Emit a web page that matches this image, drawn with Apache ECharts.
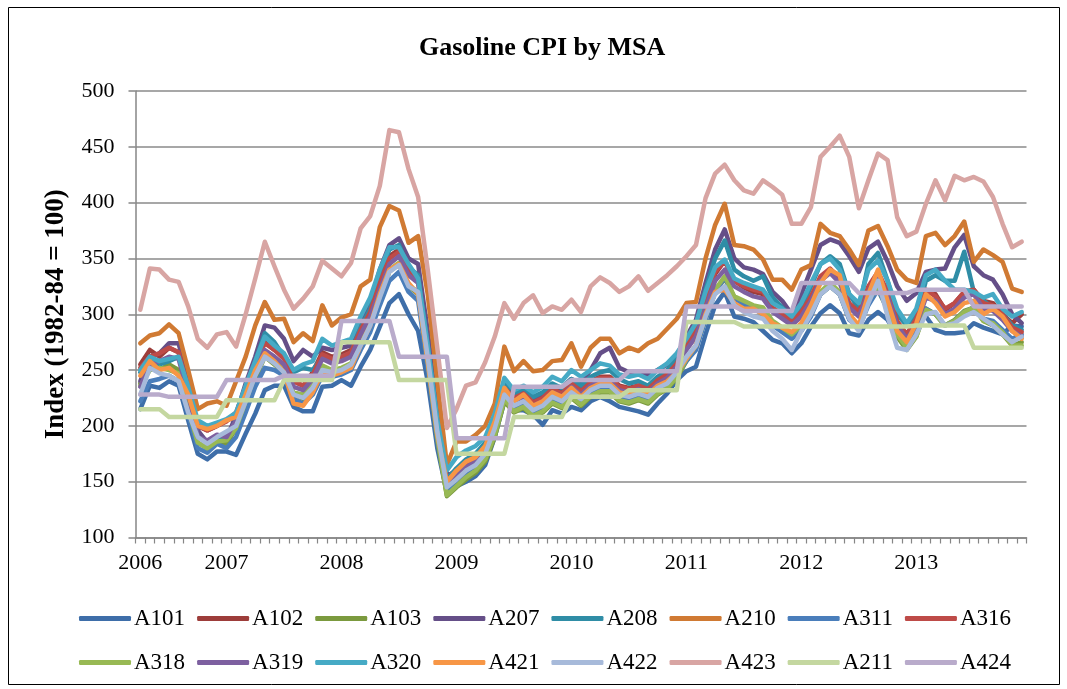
<!DOCTYPE html>
<html>
<head>
<meta charset="utf-8">
<script src="https://cdn.jsdelivr.net/npm/echarts@6/dist/echarts.min.js"></script>
<style>
html,body{margin:0;padding:0;background:#fff;}
#chart{width:1067px;height:689px;}
</style>
</head>
<body>
<div id="chart"></div>
<script>
// Monthly categories: Apr 2006 .. Dec 2013 (93 months)
const startYear = 2006, startMonth = 4, endYear = 2013;
const categories = [];
for (let y = startYear; y <= endYear; y++) {
  for (let m = (y === startYear ? startMonth : 1); m <= 12; m++) {
    categories.push(y + '-' + (m < 10 ? '0' + m : m));
  }
}
const yTicks = [100, 150, 200, 250, 300, 350, 400, 450, 500];

// Series values (by year blocks: 2006 Apr-Dec, then Jan-Dec 2007..2013)
const A101 = [215,236,234,240,236,205,175,170,177,
  177,174,193,211,232,236,236,217,213,213,235,236,
  241,236,253,268,289,310,318,300,285,240,180,140,
  146,150,155,165,190,222,214,214,210,201,214,211,
  217,214,222,226,222,217,215,213,210,220,229,241,
  249,253,282,308,320,298,296,293,285,277,274,265,
  274,289,301,308,301,283,281,295,302,295,280,271,
  296,298,286,283,283,284,292,288,285,282,290,289];
const A102 = [255,268,262,270,266,232,200,196,200,
  205,208,232,255,275,268,262,240,236,248,266,262,
  264,268,288,304,330,352,358,340,332,270,200,150,
  158,166,170,180,202,235,226,230,222,226,234,230,
  238,232,240,244,244,236,234,236,234,242,248,257,
  272,284,310,336,348,330,324,320,318,305,300,293,
  300,315,333,340,330,308,300,322,337,318,292,282,
  295,320,318,304,310,320,322,312,310,300,292,300];
const A103 = [238,252,250,255,250,218,185,180,185,
  184,198,220,242,262,255,248,228,224,235,252,248,
  250,254,274,290,315,338,345,325,318,255,188,137,
  145,152,158,168,190,222,212,216,208,212,220,216,
  225,218,226,230,230,222,220,223,220,228,233,243,
  258,270,296,320,332,315,310,306,304,292,286,280,
  288,302,318,325,318,296,288,310,322,304,280,268,
  280,305,300,290,295,303,306,294,290,282,272,275];
const A207 = [240,262,265,274,274,240,196,185,188,
  188,210,238,262,290,288,278,258,268,262,270,268,
  270,272,292,310,340,362,368,350,345,285,210,155,
  160,168,172,182,205,236,226,232,225,228,236,234,
  242,238,250,265,270,252,248,247,246,250,255,262,
  280,295,328,358,376,350,342,340,336,320,312,300,
  318,340,362,367,364,352,338,359,365,347,325,312,
  319,338,340,341,360,371,343,335,331,318,300,292];
const A208 = [248,258,255,258,262,232,190,186,190,
  188,205,232,258,283,275,262,248,252,250,262,258,
  262,265,288,305,335,358,362,342,335,272,205,152,
  162,170,175,185,208,240,228,234,226,230,238,234,
  242,236,244,248,250,242,238,240,236,244,250,260,
  276,290,322,350,366,340,334,330,334,315,306,298,
  305,325,345,352,345,318,305,345,355,330,300,290,
  298,330,335,330,330,356,320,312,306,300,290,286];
const A210 = [274,281,283,291,283,250,215,220,222,
  218,240,262,290,311,295,296,275,283,276,308,290,
  297,300,325,331,378,397,393,364,370,318,240,165,
  186,186,192,200,220,271,249,258,249,250,258,259,
  274,253,270,278,278,265,270,267,274,278,287,296,
  310,311,350,380,399,362,361,358,349,331,331,322,
  340,344,381,373,370,358,344,375,379,361,340,331,
  328,370,373,362,370,383,347,358,353,347,323,320];
const A311 = [222,240,242,245,240,210,180,176,184,
  180,190,212,235,252,250,245,224,220,228,245,244,
  246,250,268,284,308,330,338,320,312,252,188,142,
  150,156,162,172,194,225,216,220,212,216,224,220,
  228,222,230,234,234,226,224,226,222,230,236,246,
  258,268,295,320,333,315,308,305,300,290,284,278,
  285,298,318,325,318,295,288,308,322,305,282,272,
  284,305,300,290,294,302,306,296,294,286,278,282];
const A316 = [252,262,265,270,266,232,200,196,200,
  204,212,235,256,274,268,260,240,236,246,264,260,
  262,266,286,302,328,350,356,338,330,268,200,150,
  156,164,170,180,202,234,225,229,221,225,233,229,
  238,231,239,243,243,235,233,236,233,241,246,256,
  272,285,312,338,348,330,325,322,320,306,300,294,
  302,316,334,341,332,310,302,325,338,320,294,282,
  296,322,316,305,310,320,322,310,308,300,288,284];
const A318 = [236,250,252,250,247,215,185,180,186,
  187,198,222,246,265,258,250,230,228,236,254,250,
  252,256,276,292,316,340,346,326,320,258,190,138,
  146,154,160,170,192,224,213,217,209,213,221,217,
  226,219,227,231,231,223,221,224,221,229,234,244,
  260,272,298,322,334,316,312,308,306,294,288,282,
  290,304,320,328,320,298,290,312,326,308,282,270,
  280,304,300,290,294,302,306,294,292,284,272,272];
const A319 = [235,255,258,262,260,228,190,187,192,
  190,205,228,250,268,262,255,235,232,242,260,256,
  258,262,282,298,322,345,352,335,328,265,198,148,
  155,163,168,178,200,232,222,226,218,222,230,226,
  235,228,236,240,240,232,230,233,230,238,243,253,
  268,280,305,330,340,325,320,316,314,302,296,290,
  298,312,330,337,328,306,298,320,335,316,290,278,
  290,315,312,300,305,315,318,305,303,295,285,280];
const A320 = [250,262,258,260,262,235,205,200,203,
  206,212,236,258,280,272,265,250,255,258,278,272,
  275,278,298,315,340,360,360,345,332,272,205,160,
  172,178,182,190,211,243,232,236,230,235,244,240,
  250,244,250,256,254,246,244,246,242,250,256,265,
  278,292,320,342,349,332,328,325,322,310,305,298,
  310,328,345,350,340,318,310,340,348,330,305,292,
  305,335,340,330,322,322,320,315,318,305,298,302];
const A421 = [245,258,250,252,245,228,200,197,200,
  205,208,228,250,265,258,248,220,218,230,248,245,
  248,252,272,290,318,340,345,328,318,258,192,150,
  160,168,172,182,204,234,222,228,218,222,230,226,
  234,226,234,238,238,230,228,231,228,236,240,248,
  260,272,300,320,322,310,305,305,300,292,288,284,
  292,308,328,340,335,300,290,318,340,312,285,275,
  292,318,310,298,302,310,312,300,305,298,285,278];
const A422 = [228,252,247,245,240,212,190,184,190,
  195,200,222,245,262,256,248,228,225,234,250,248,
  250,255,272,290,315,338,344,325,320,262,195,145,
  152,160,165,175,198,228,218,222,214,218,226,222,
  230,224,232,236,236,228,226,229,226,234,238,248,
  262,272,298,318,325,308,302,298,296,285,278,268,
  285,300,318,325,318,296,285,310,330,298,270,268,
  282,300,302,290,292,298,302,296,290,282,275,280];
const A423 = [304,341,340,331,329,307,278,270,282,
  284,271,300,332,365,343,322,305,314,325,348,341,
  334,346,377,388,415,465,463,430,405,340,270,198,
  215,236,239,257,280,310,296,310,317,301,307,304,
  313,302,325,333,328,320,325,334,321,328,335,343,
  352,362,404,426,434,420,411,408,420,414,407,381,
  381,396,441,450,460,441,395,420,444,438,387,370,
  374,399,420,402,424,420,423,419,405,381,360,365];
const A211 = [215,215,215,208,208,208,208,208,208,
  223,223,223,223,223,223,241,241,241,241,241,241,
  275,275,275,275,275,275,241,241,241,241,241,241,
  175,175,175,175,175,175,208,208,208,208,208,208,
  226,226,226,226,226,226,232,232,232,232,232,232,
  293,293,293,293,293,293,289,289,289,289,289,289,
  289,289,289,289,289,289,289,289,289,289,289,289,
  290,290,290,290,290,290,270,270,270,270,270,270];
const A424 = [228,228,228,226,226,226,226,226,226,
  241,241,241,241,241,241,245,245,245,245,245,245,
  294,294,294,294,294,294,262,262,262,262,262,262,
  189,189,189,189,189,189,235,235,235,235,235,235,
  241,241,241,241,241,241,249,249,249,249,249,249,
  307,307,307,307,307,307,303,303,303,303,303,303,
  328,328,328,328,328,328,319,319,319,319,319,319,
  322,322,322,322,322,322,307,307,307,307,307,307];

const seriesNames = ['A101','A102','A103','A207','A208','A210','A311','A316',
                     'A318','A319','A320','A421','A422','A423','A211','A424'];
const seriesData = [A101,A102,A103,A207,A208,A210,A311,A316,A318,A319,A320,A421,A422,A423,A211,A424];
const colors = ['#3E6EA9','#9D3D3A','#7B9A3E','#654F88','#2F8DA6','#D07A33','#4A7EBB','#BE4B48',
                '#98B954','#7D60A0','#46AAC5','#F79646','#A7BADA','#D8A5A3','#C4D7A0','#B9ABCB'];

const FONT = "'Liberation Serif', 'Times New Roman', serif";
const chart = echarts.init(document.getElementById('chart'), null, {renderer: 'canvas'});

const legendBase = {
  orient: 'horizontal', left: 74, itemWidth: 52, itemHeight: 5, itemGap: 12,
  icon: 'roundRect',
  textStyle: {fontFamily: FONT, fontSize: 23, color: '#000', padding: [0,0,0,-2]},
  selectedMode: false
};

chart.setOption({
  animation: false,
  backgroundColor: '#fff',
  color: colors,
  title: {
    text: 'Gasoline CPI by MSA', left: 414, top: 30,
    textStyle: {fontFamily: FONT, fontSize: 26, fontWeight: 'bold', color: '#000'}
  },
  graphic: [{
    type: 'rect', shape: {x: 8.5, y: 7.5, width: 1051, height: 677},
    style: {fill: 'none', stroke: '#000', lineWidth: 1}, silent: true
  }],
  legend: [
    Object.assign({}, legendBase, {top: 602, data: seriesNames.slice(0, 8)}),
    Object.assign({}, legendBase, {top: 646, data: seriesNames.slice(8)})
  ],
  grid: {left: 135.5, right: 40.5, top: 91, bottom: 151.5, containLabel: false},
  xAxis: {
    type: 'category', data: categories, boundaryGap: true,
    axisLine: {lineStyle: {color: '#868686', width: 1.5}},
    axisTick: {show: true, interval: 0, length: 6, lineStyle: {color: '#868686', width: 1.2}},
    axisLabel: {
      interval: function (i, v) { return i === 0 || v.slice(5) === '01'; },
      formatter: function (v) { return v.slice(0, 4); },
      fontFamily: FONT, fontSize: 22, color: '#000', margin: 15
    },
    splitLine: {show: false}
  },
  yAxis: {
    type: 'value', min: yTicks[0], max: yTicks[yTicks.length - 1], interval: 50,
    name: 'Index (1982-84 = 100)', nameLocation: 'middle', nameGap: 66, nameRotate: 90,
    nameTextStyle: {fontFamily: FONT, fontSize: 27, fontWeight: 'bold', color: '#000'},
    axisLine: {show: true, lineStyle: {color: '#868686', width: 1.5}},
    axisTick: {show: true, length: 7, lineStyle: {color: '#868686', width: 1.5}},
    axisLabel: {fontFamily: FONT, fontSize: 22, color: '#000', margin: 21},
    splitLine: {lineStyle: {color: '#8A8A8A', width: 1.5}}
  },
  series: seriesNames.map(function (n, k) {
    return {
      name: n, type: 'line', data: seriesData[k], showSymbol: false, symbol: 'none',
      lineStyle: {width: 4.5, color: colors[k], cap: 'round', join: 'round'},
      itemStyle: {color: colors[k]},
      emphasis: {disabled: true}, silent: true
    };
  })
});
</script>
</body>
</html>
